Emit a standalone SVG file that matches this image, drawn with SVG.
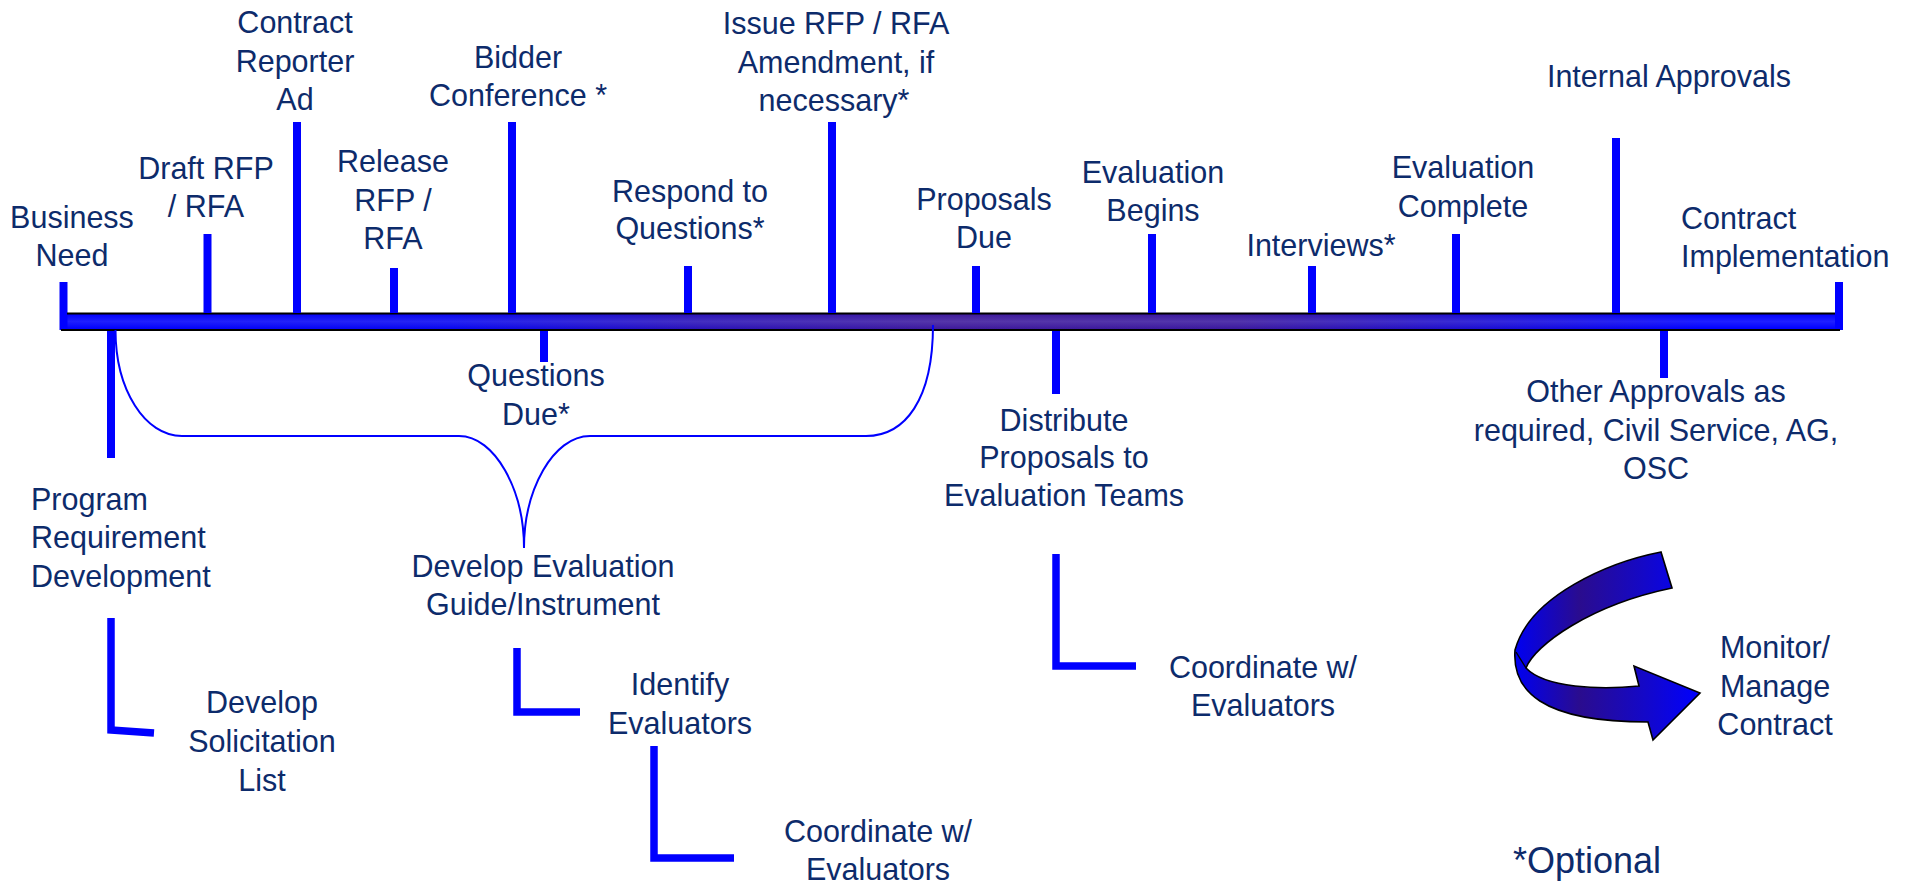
<svg xmlns="http://www.w3.org/2000/svg" width="1911" height="886" viewBox="0 0 1911 886">
<style>
.t{font-family:"Liberation Sans",Arial,sans-serif;font-size:30.5px;fill:#0D2B6B;text-anchor:middle}
.tl{text-anchor:start}
.tick{stroke:#0000FF;stroke-width:8;fill:none}
.ell{stroke:#0000FF;stroke-width:7.5;fill:none;stroke-linejoin:miter}
.brace{stroke:#0000FF;stroke-width:2;fill:none}
.edge{stroke:#000;stroke-width:2}
</style>
<defs>
<linearGradient id="barG" gradientUnits="userSpaceOnUse" x1="60" y1="0" x2="1843" y2="0">
<stop offset="0" stop-color="#0000FF"/>
<stop offset="0.22" stop-color="#0806F0"/>
<stop offset="0.36" stop-color="#2A12B8"/>
<stop offset="0.5" stop-color="#3E1A9C"/>
<stop offset="0.66" stop-color="#3A189F"/>
<stop offset="0.8" stop-color="#1A0CD4"/>
<stop offset="0.92" stop-color="#0000FF"/>
<stop offset="1" stop-color="#0000FF"/>
</linearGradient>
<linearGradient id="barShine" x1="0" y1="0" x2="0" y2="1">
<stop offset="0" stop-color="#FFFFFF" stop-opacity="0"/>
<stop offset="0.5" stop-color="#FFFFFF" stop-opacity="0.12"/>
<stop offset="1" stop-color="#FFFFFF" stop-opacity="0"/>
</linearGradient>
<linearGradient id="arrG" gradientUnits="userSpaceOnUse" x1="1515" y1="0" x2="1700" y2="0">
<stop offset="0" stop-color="#0000F2"/>
<stop offset="0.35" stop-color="#2A0C8E"/>
<stop offset="0.7" stop-color="#1408C8"/>
<stop offset="1" stop-color="#0000FF"/>
</linearGradient>
</defs>

<g id="connectors">
<rect x="60" y="313" width="1783" height="17" fill="url(#barG)"/>
<rect x="60" y="314" width="1783" height="15" fill="url(#barShine)"/>
<line class="tick" x1="63.5" y1="282" x2="63.5" y2="330"/>
<line class="tick" x1="1839" y1="282" x2="1839" y2="330"/>
<line class="edge" x1="67" y1="313.5" x2="1835" y2="313.5"/>
<line class="edge" x1="61" y1="330" x2="1840" y2="330"/>
<line class="tick" x1="207.5" y1="234" x2="207.5" y2="313"/>
<line class="tick" x1="297" y1="122" x2="297" y2="313"/>
<line class="tick" x1="394" y1="268" x2="394" y2="313"/>
<line class="tick" x1="512" y1="122" x2="512" y2="313"/>
<line class="tick" x1="688" y1="266" x2="688" y2="313"/>
<line class="tick" x1="832" y1="122" x2="832" y2="313"/>
<line class="tick" x1="976" y1="266" x2="976" y2="313"/>
<line class="tick" x1="1152" y1="234" x2="1152" y2="313"/>
<line class="tick" x1="1312" y1="266" x2="1312" y2="313"/>
<line class="tick" x1="1456" y1="234" x2="1456" y2="313"/>
<line class="tick" x1="1616" y1="138" x2="1616" y2="313"/>
<line class="tick" x1="111" y1="331" x2="111" y2="458"/>
<line class="tick" x1="544" y1="331" x2="544" y2="362"/>
<line class="tick" x1="1056" y1="331" x2="1056" y2="394"/>
<line class="tick" x1="1664" y1="331" x2="1664" y2="378"/>
<path class="brace" d="M115.5,330 C115.5,390 145,436 182,436 L459,436 C495,436 524,490 524,548 C524,490 553,436 590,436 L866,436 C905,436 933,400 933,325"/>
<polyline class="ell" points="111,618 111,730 154,733"/>
<polyline class="ell" points="517,648 517,712 580,712"/>
<polyline class="ell" points="654,746 654,858 734,858"/>
<polyline class="ell" points="1056,554 1056,666 1136,666"/>
</g>

<g id="arrow">
<path d="M1661,552 C1610,562 1530,595 1515,650 C1512,690 1540,722 1648,722 L1653,740 L1700,693 L1634,666 L1639,686 C1600,690 1545,688 1526,668 C1535,645 1590,605 1672,588 Z" fill="url(#arrG)" stroke="#000" stroke-width="1.6" stroke-linejoin="miter"/>
<line x1="1516" y1="652" x2="1526" y2="668" stroke="#000" stroke-width="1.4"/>
</g>

<g id="business-need"><text class="t" x="72" y="228">Business</text><text class="t" x="72" y="266">Need</text></g>
<g id="draft-rfp"><text class="t" x="206" y="179">Draft RFP</text><text class="t" x="206" y="217">/ RFA</text></g>
<g id="contract-reporter"><text class="t" x="295" y="33">Contract</text><text class="t" x="295" y="72">Reporter</text><text class="t" x="295" y="110">Ad</text></g>
<g id="release-rfp"><text class="t" x="393" y="172">Release</text><text class="t" x="393" y="211">RFP /</text><text class="t" x="393" y="249">RFA</text></g>
<g id="bidder-conference"><text class="t" x="518" y="68">Bidder</text><text class="t" x="518" y="106">Conference *</text></g>
<g id="respond-questions"><text class="t" x="690" y="202">Respond to</text><text class="t" x="690" y="239">Questions*</text></g>
<g id="issue-amendment"><text class="t" x="836" y="34">Issue RFP / RFA</text><text class="t" x="836" y="73">Amendment, if</text><text class="t" x="834" y="111">necessary*</text></g>
<g id="proposals-due"><text class="t" x="984" y="210">Proposals</text><text class="t" x="984" y="248">Due</text></g>
<g id="evaluation-begins"><text class="t" x="1153" y="183">Evaluation</text><text class="t" x="1153" y="221">Begins</text></g>
<g id="interviews"><text class="t" x="1321" y="256">Interviews*</text></g>
<g id="evaluation-complete"><text class="t" x="1463" y="178">Evaluation</text><text class="t" x="1463" y="217">Complete</text></g>
<g id="internal-approvals"><text class="t" x="1669" y="87">Internal Approvals</text></g>
<g id="contract-implementation"><text class="t tl" x="1681" y="229">Contract</text><text class="t tl" x="1681" y="267">Implementation</text></g>
<g id="questions-due"><text class="t" x="536" y="386">Questions</text><text class="t" x="536" y="425">Due*</text></g>
<g id="program-requirement"><text class="t tl" x="31" y="510">Program</text><text class="t tl" x="31" y="548">Requirement</text><text class="t tl" x="31" y="587">Development</text></g>
<g id="develop-evaluation-guide"><text class="t" x="543" y="577">Develop Evaluation</text><text class="t" x="543" y="615">Guide/Instrument</text></g>
<g id="distribute-proposals"><text class="t" x="1064" y="431">Distribute</text><text class="t" x="1064" y="468">Proposals to</text><text class="t" x="1064" y="506">Evaluation Teams</text></g>
<g id="other-approvals"><text class="t" x="1656" y="402">Other Approvals as</text><text class="t" x="1656" y="441">required, Civil Service, AG,</text><text class="t" x="1656" y="479">OSC</text></g>
<g id="develop-solicitation-list"><text class="t" x="262" y="713">Develop</text><text class="t" x="262" y="752">Solicitation</text><text class="t" x="262" y="791">List</text></g>
<g id="identify-evaluators"><text class="t" x="680" y="695">Identify</text><text class="t" x="680" y="734">Evaluators</text></g>
<g id="coordinate-evaluators-1"><text class="t" x="878" y="842">Coordinate w/</text><text class="t" x="878" y="880">Evaluators</text></g>
<g id="coordinate-evaluators-2"><text class="t" x="1263" y="678">Coordinate w/</text><text class="t" x="1263" y="716">Evaluators</text></g>
<g id="monitor-manage"><text class="t" x="1775" y="658">Monitor/</text><text class="t" x="1775" y="697">Manage</text><text class="t" x="1775" y="735">Contract</text></g>
<g id="optional-note"><text class="t" x="1587" y="873" style="font-size:36px">*Optional</text></g>
</svg>
